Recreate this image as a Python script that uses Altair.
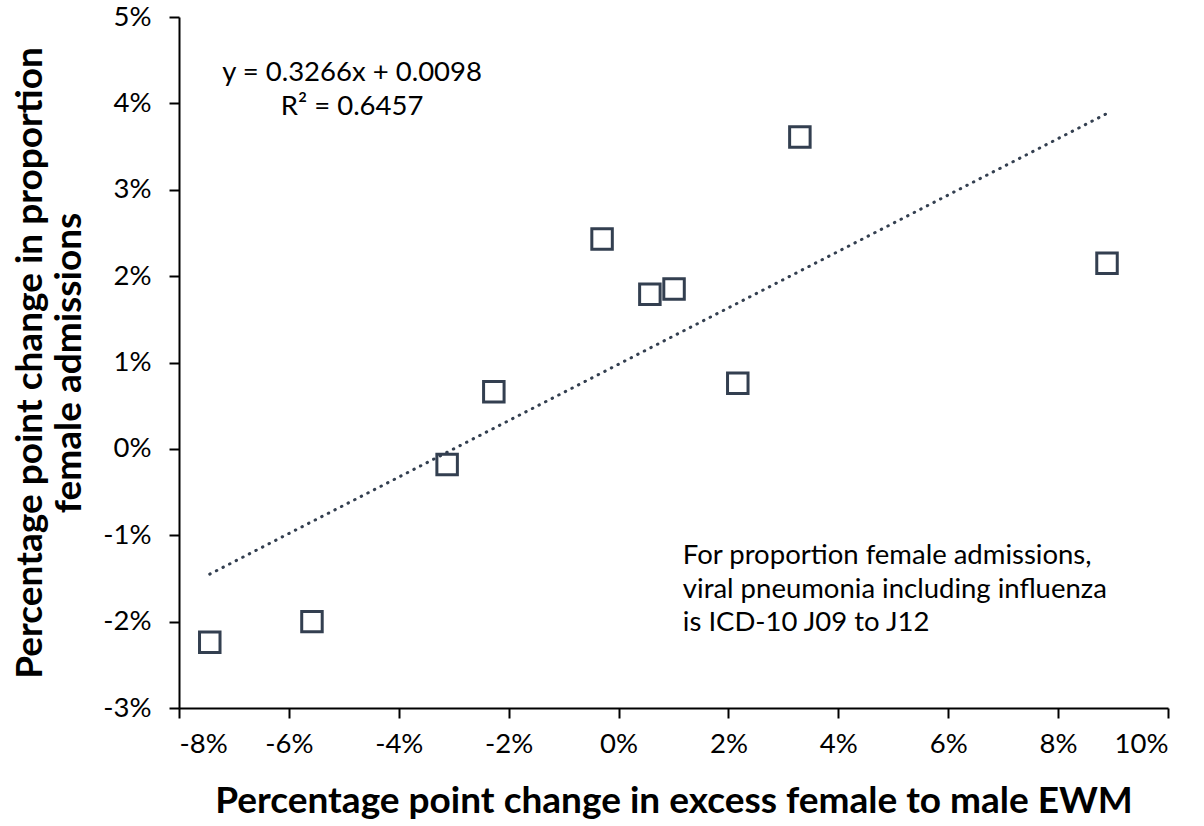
import altair as alt
import pandas as pd

# Percentage point change in excess female-to-male EWM (x) vs
# percentage point change in proportion female admissions (y), in %
excess_ewm = [-7.44, -5.58, -3.12, -2.27, -0.30, 0.57, 1.01, 2.17, 3.30, 8.89]
female_adm = [-2.24, -2.00, -0.18, 0.66, 2.43, 1.79, 1.85, 0.76, 3.61, 2.15]

# Fitted trend line (fraction units): y = 0.3266x + 0.0098
slope = 0.3266
intercept = 0.0098
r_squared = 0.6457

FONT = "Lato"
INK = "#333f50"
TXT = 27.5
TITLE = 37

pts = pd.DataFrame({"x": excess_ewm, "y": female_adm})

x0, x1 = min(excess_ewm), max(excess_ewm)
trend = pd.DataFrame({
    "x": [x0, x1],
    "y": [slope * x0 + intercept * 100, slope * x1 + intercept * 100],
})

xscale = alt.Scale(domain=[-8, 10], nice=False, zero=False)
yscale = alt.Scale(domain=[-3, 5], nice=False, zero=False)

xaxis = alt.Axis(
    values=list(range(-8, 11, 2)), labelExpr="datum.value + '%'",
    title="Percentage point change in excess female to male EWM",
    titleFont=FONT, titleFontSize=TITLE, titleFontWeight="bold", titleColor="black",
    titlePadding=26,
    labelFont=FONT, labelFontSize=TXT, labelColor="black", labelPadding=12,
    domainColor="black", domainWidth=2, tickColor="black", tickWidth=2, tickSize=10,
    grid=False,
)
yaxis = alt.Axis(
    values=list(range(-3, 6)), labelExpr="datum.value + '%'",
    title=["Percentage point change in proportion", "female admissions"],
    titleFont=FONT, titleFontSize=TITLE, titleFontWeight="bold", titleColor="black",
    titlePadding=14, titleLineHeight=39,
    labelFont=FONT, labelFontSize=TXT, labelColor="black", labelPadding=18,
    domainColor="black", domainWidth=2, tickColor="black", tickWidth=2, tickSize=10,
    grid=False,
)

line = alt.Chart(trend).mark_line(
    color=INK, strokeWidth=3, strokeDash=[0.5, 6.9], strokeCap="round"
).encode(
    x=alt.X("x:Q", scale=xscale, axis=xaxis),
    y=alt.Y("y:Q", scale=yscale, axis=yaxis),
)

squares = alt.Chart(pts).mark_point(
    shape="square", size=420, filled=False, color=INK, strokeWidth=3, opacity=1
).encode(
    x=alt.X("x:Q", scale=xscale),
    y=alt.Y("y:Q", scale=yscale),
)

eq = pd.DataFrame({
    "x": [-4.85, -4.85],
    "y": [4.35, 3.96],
    "t": [f"y = {slope}x + {intercept}", f"R² = {r_squared}"],
})
eq_text = alt.Chart(eq).mark_text(
    font=FONT, fontSize=TXT, color="black", align="center", baseline="middle"
).encode(x=alt.X("x:Q", scale=xscale), y=alt.Y("y:Q", scale=yscale), text="t:N")

note = pd.DataFrame({
    "x": [1.17, 1.17, 1.17],
    "y": [-1.24, -1.63, -2.02],
    "t": [
        "For proportion female admissions,",
        "viral pneumonia including influenza",
        "is ICD-10 J09 to J12",
    ],
})
note_text = alt.Chart(note).mark_text(
    font=FONT, fontSize=TXT, color="black", align="left", baseline="middle"
).encode(x=alt.X("x:Q", scale=xscale), y=alt.Y("y:Q", scale=yscale), text="t:N")

chart = alt.layer(line, squares, eq_text, note_text).properties(
    width=989, height=691,
    padding={"left": 179, "top": 17, "right": 36, "bottom": 118},
    autosize="none",
    background="white",
).configure_view(stroke=None)

chart.save("out.html", embed_options={"renderer": "svg", "actions": False})
